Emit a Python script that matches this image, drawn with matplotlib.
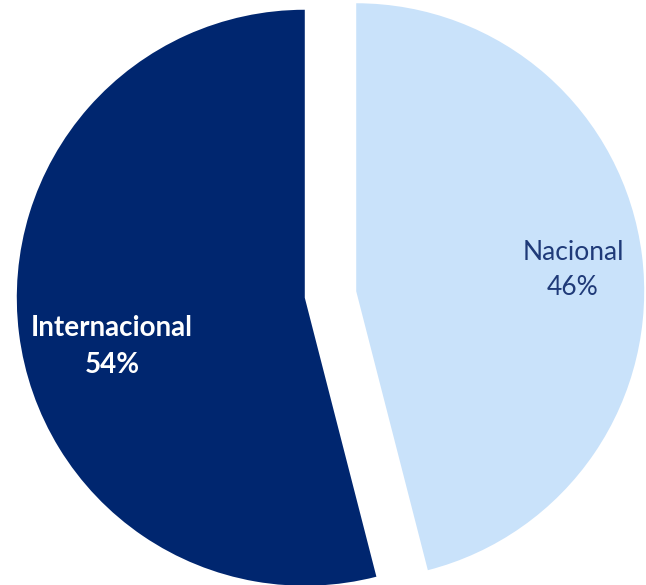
import matplotlib.pyplot as plt

# Data
labels = ['Nacional', 'Internacional']
shares = [46, 54]
colors = ['#C9E2FA', '#00266F']
text_colors = ['#1F3A78', 'white']
weights = ['normal', 'bold']
sizes = [19, 20]
explode = [0.09, 0.09]

fig = plt.figure(figsize=(6.46, 5.85), dpi=100)
ax = fig.add_axes([0, 0, 1, 1])

wedges, _ = ax.pie(shares, colors=colors, explode=explode, startangle=90,
                   counterclock=False, radius=1.0,
                   wedgeprops=dict(linewidth=0))

# label positions (data units, radius = 1)
label_pos = [(0.842, 0.085), (-0.759, -0.181)]
for lab, val, pos, tc, w, s in zip(labels, shares, label_pos, text_colors, weights, sizes):
    ax.text(pos[0], pos[1], f'{lab}\n{val}%', ha='center', va='center',
            color=tc, fontsize=s, fontweight=w, family=['Lato', 'DejaVu Sans'],
            linespacing=1.5)

ax.set_xlim(-1.1476, 1.0955)
ax.set_ylim(-1.0087, 1.0226)
ax.set_aspect('equal')
ax.axis('off')

fig.savefig('out.png', dpi=100)
